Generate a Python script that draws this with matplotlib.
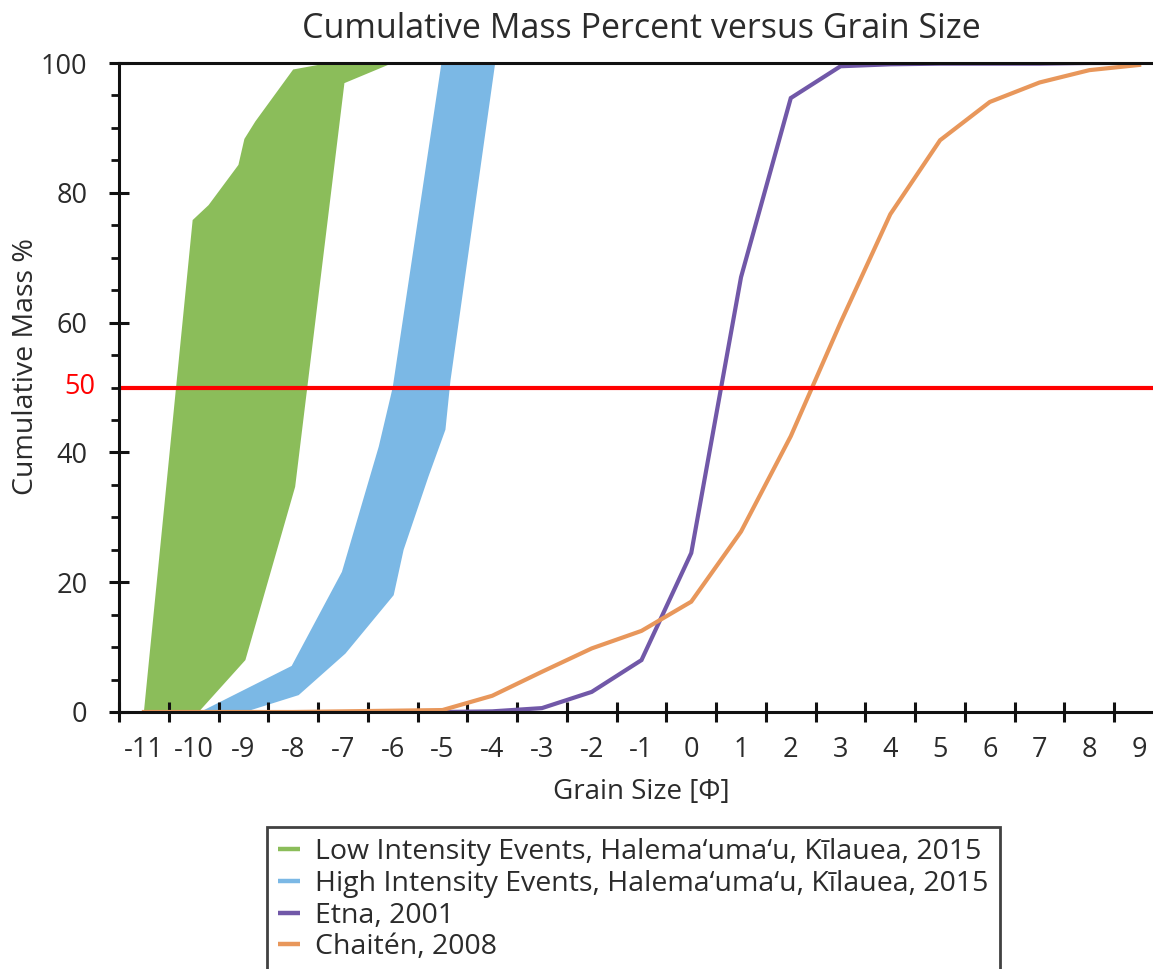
import matplotlib
matplotlib.use("Agg")
import matplotlib.pyplot as plt
import numpy as np
from matplotlib.lines import Line2D
from matplotlib.ticker import MultipleLocator
import matplotlib.transforms as mtransforms

plt.rcParams['font.family'] = ['Open Sans', 'DejaVu Sans']

# ---------------- data ----------------
grain_phi = list(range(-11, 10))
tick_labels = [str(v) for v in grain_phi]

chaiten_phi = [-11, -10, -9, -8, -7, -6, -5, -4, -3, -2, -1, 0, 1, 2, 3, 4, 5, 6, 7, 8, 9]
chaiten_pct = [0.0, 0.0, 0.0, 0.0, 0.1, 0.2, 0.3, 2.5, 6.2, 9.8, 12.5, 17.0, 27.8, 42.5, 60.0, 76.7, 88.1, 94.0, 97.0, 98.9, 99.7]

etna_phi = [-5, -4, -3, -2, -1, 0, 1, 2, 3, 4, 5, 6, 7, 8, 9]
etna_pct = [0.0, 0.1, 0.6, 3.1, 8.0, 24.5, 67.0, 94.6, 99.5, 99.8, 99.9, 99.9, 99.9, 100.0, 100.0]

# Low intensity envelope (coarse edge, then fine edge)
low_coarse_phi = [-11.0, -10.02, -9.70, -9.10, -8.98, -8.76, -8.0, -7.5, -6.0]
low_coarse_pct = [0.0, 75.8, 78.1, 84.3, 88.3, 91.0, 99.0, 99.7, 100.0]
low_fine_phi = [-6.0, -6.97, -7.96, -8.96, -9.9]
low_fine_pct = [100.0, 96.9, 34.7, 8.0, 0.0]

# High intensity envelope
high_coarse_phi = [-9.87, -8.03, -7.02, -6.28, -6.0, -5.02]
high_coarse_pct = [0.0, 7.1, 21.6, 40.9, 50.0, 100.0]
high_fine_phi = [-3.94, -4.84, -4.94, -5.28, -5.78, -5.98, -6.95, -7.89, -8.97]
high_fine_pct = [100.0, 51.0, 43.5, 36.3, 25.0, 18.0, 9.0, 2.6, 0.0]

median_line = 50

series_names = [
    "Low Intensity Events, Halema\u2018uma\u2018u, K\u012blauea, 2015",
    "High Intensity Events, Halema\u2018uma\u2018u, K\u012blauea, 2015",
    "Etna, 2001",
    "Chait\u00e9n, 2008",
]

c_green = "#8bbd5a"
c_blue = "#7bb8e5"
c_purple = "#7158a8"
c_orange = "#e8975b"
c_text = "#2b2b2b"

# ---------------- figure ----------------
W, H = 1153, 969
fig = plt.figure(figsize=(W / 100, H / 100), dpi=100)
ax_left, ax_right, ax_bottom, ax_top = 119, 1164, 712, 63
ax = fig.add_axes([ax_left / W, 1 - ax_bottom / H, (ax_right - ax_left) / W, (ax_bottom - ax_top) / H])

ax.fill(low_coarse_phi + low_fine_phi, low_coarse_pct + low_fine_pct, color=c_green, lw=0, zorder=1)
ax.fill(high_coarse_phi + high_fine_phi, high_coarse_pct + high_fine_pct, color=c_blue, lw=0, zorder=1)
ax.plot(etna_phi, etna_pct, color=c_purple, lw=3.0, zorder=2, solid_joinstyle='miter')
ax.plot(chaiten_phi, chaiten_pct, color=c_orange, lw=3.0, zorder=2, solid_joinstyle='miter')
ax.axhline(median_line, color="#ff0000", lw=3.0, zorder=3)

ax.set_xlim(-11.5, 9.5)
ax.set_ylim(0, 100)

for s in ['top', 'left', 'bottom']:
    ax.spines[s].set_linewidth(2.2)
    ax.spines[s].set_color('#111111')
    ax.spines[s].set_zorder(5)
ax.spines['right'].set_visible(False)

# x ticks: marks at half-integers, labels at integers
ax.set_xticks(np.arange(-11.5, 9.6, 1.0))
ax.set_xticklabels([])
ax.set_xticks(grain_phi, minor=True)
ax.set_xticklabels(tick_labels, minor=True)
ax.tick_params(axis='x', which='major', direction='inout', length=14.5, width=2.2, color='#111111')
ax.tick_params(axis='x', which='minor', length=0, pad=17, labelsize=19.5, labelcolor=c_text)

# y ticks
ax.set_yticks([0, 20, 40, 60, 80, 100])
ax.yaxis.set_minor_locator(MultipleLocator(5))
ax.tick_params(axis='y', which='major', direction='inout', length=14.5, width=2.2, color='#111111',
               pad=15.5, labelsize=19.5, labelcolor=c_text)
ax.tick_params(axis='y', which='minor', direction='out', length=5.5, width=2.0, color='#111111')

trans = mtransforms.blended_transform_factory(ax.transAxes, ax.transData)
ax.text(-0.023, median_line, "50", transform=trans, ha='right', va='center',
        color="#ff0000", fontsize=19.5)

ax.set_ylabel("Cumulative Mass %", fontsize=20.5, color=c_text)
ax.yaxis.set_label_coords(-0.0756, 0.533)
ax.set_xlabel("Grain Size [\u03a6]", fontsize=20, color=c_text)
ax.xaxis.set_label_coords(0.5, -0.102)
ax.set_title("Cumulative Mass Percent versus Grain Size", fontsize=24.5, color=c_text, pad=18)

handles = [Line2D([0], [0], color=c, lw=3.2, solid_capstyle='butt')
           for c in [c_green, c_blue, c_purple, c_orange]]
leg = fig.legend(handles, series_names, loc='upper left',
                 bbox_to_anchor=(267 / W, 1 - 827 / H), bbox_transform=fig.transFigure,
                 borderaxespad=0, fontsize=20.5, frameon=True, fancybox=False,
                 edgecolor='#111111', handlelength=0.78, handletextpad=0.53,
                 labelspacing=0.13, borderpad=0.39)
leg.get_frame().set_linewidth(2.0)
for t in leg.get_texts():
    t.set_color(c_text)

fig.savefig("out.png", dpi=100)
